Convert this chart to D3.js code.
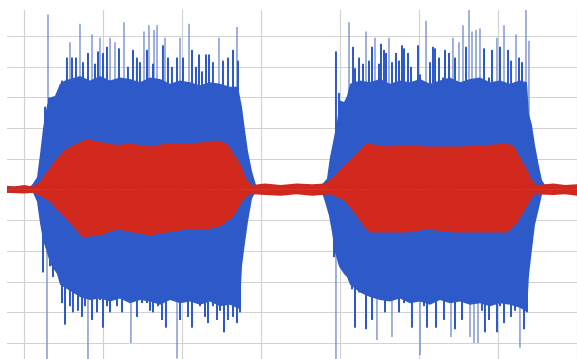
<!DOCTYPE html>
<html>
<head>
<meta charset="utf-8">
<script src="https://cdn.jsdelivr.net/npm/d3@7"></script>
<style>
  body { margin: 0; background: #fff; }
  svg { display: block; }
</style>
</head>
<body>
<div id="chart"></div>
<script>
// grid positions (time units / amplitude units)
const gridT = [0, 1, 2, 3, 4, 5, 6, 7];
const gridV = [-1, -0.8, -0.6, -0.4, -0.2, 0.2, 0.4, 0.6, 0.8, 1];

// blue signal: dense body envelope [t, v]
const blueUpper = [
  [-0.215, 0.02], [0.08, 0.02], [0.114, 0.04], [0.165, 0.08], [0.203, 0.23], [0.241, 0.40],
  [0.291, 0.55], [0.329, 0.60], [0.392, 0.61], [0.456, 0.69], [0.519, 0.71], [0.582, 0.72],
  [0.709, 0.74], [0.835, 0.71], [0.962, 0.74], [1.089, 0.71], [1.215, 0.73], [1.342, 0.72],
  [1.468, 0.70], [1.595, 0.73], [1.722, 0.72], [1.848, 0.69], [1.975, 0.71], [2.101, 0.70],
  [2.228, 0.68], [2.354, 0.70], [2.481, 0.69], [2.608, 0.67], [2.709, 0.67], [2.759, 0.54],
  [2.797, 0.39], [2.835, 0.25], [2.886, 0.12], [2.937, 0.03], [2.987, 0.02], [3.3, 0.02],
  [3.747, 0.02], [3.835, 0.07], [3.873, 0.21], [3.924, 0.34], [3.962, 0.44], [4.0, 0.58],
  [4.051, 0.57], [4.089, 0.61], [4.127, 0.69], [4.253, 0.71], [4.38, 0.70], [4.506, 0.72],
  [4.633, 0.69], [4.759, 0.71], [4.886, 0.70], [5.013, 0.72], [5.139, 0.69], [5.266, 0.71],
  [5.392, 0.73], [5.519, 0.70], [5.646, 0.72], [5.772, 0.73], [5.899, 0.70], [6.025, 0.71],
  [6.152, 0.69], [6.278, 0.71], [6.367, 0.70], [6.392, 0.49], [6.43, 0.42], [6.468, 0.29],
  [6.519, 0.15], [6.557, 0.06], [6.608, 0.02], [7.0, 0.02]
];
const blueLower = [
  [-0.215, -0.02], [0.08, -0.02], [0.114, -0.02], [0.165, -0.08], [0.203, -0.22], [0.241, -0.33],
  [0.291, -0.41], [0.329, -0.48], [0.418, -0.55], [0.456, -0.62], [0.582, -0.66], [0.709, -0.70],
  [0.835, -0.72], [0.962, -0.71], [1.089, -0.73], [1.215, -0.71], [1.342, -0.74], [1.468, -0.72],
  [1.595, -0.73], [1.722, -0.75], [1.848, -0.72], [1.975, -0.74], [2.101, -0.73], [2.228, -0.75],
  [2.354, -0.73], [2.481, -0.76], [2.608, -0.75], [2.734, -0.78], [2.759, -0.50], [2.797, -0.35],
  [2.835, -0.21], [2.886, -0.06], [2.924, -0.02], [3.772, -0.02], [3.81, -0.08], [3.861, -0.17],
  [3.899, -0.28], [3.937, -0.41], [3.987, -0.50], [4.051, -0.55], [4.089, -0.57], [4.127, -0.62],
  [4.253, -0.67], [4.38, -0.70], [4.506, -0.72], [4.633, -0.73], [4.759, -0.71], [4.886, -0.74],
  [5.013, -0.73], [5.139, -0.75], [5.266, -0.72], [5.392, -0.74], [5.519, -0.73], [5.646, -0.75],
  [5.772, -0.74], [5.899, -0.76], [6.025, -0.74], [6.152, -0.75], [6.278, -0.77], [6.367, -0.80],
  [6.392, -0.56], [6.43, -0.39], [6.468, -0.23], [6.519, -0.12], [6.557, -0.03], [6.608, -0.02],
  [7.0, -0.02]
];

// blue signal: individual peaks [t, v]
const bluePeaksUp = [
  [0.266, 0.54], [0.304, 1.14], [0.316, 0.60], [0.367, 0.60], [0.481, 0.71], [0.544, 0.86],
  [0.582, 0.96], [0.608, 0.86], [0.658, 0.86], [0.709, 1.08], [0.747, 0.83], [0.810, 0.89],
  [0.861, 1.01], [0.899, 0.82], [0.937, 0.90], [0.962, 0.99], [1.0, 0.89], [1.051, 0.93],
  [1.089, 0.99], [1.152, 0.96], [1.203, 0.92], [1.266, 1.09], [1.316, 0.80], [1.380, 0.91],
  [1.430, 0.86], [1.468, 0.83], [1.519, 1.03], [1.557, 0.91], [1.582, 1.07], [1.633, 0.82],
  [1.646, 1.04], [1.684, 1.07], [1.759, 0.94], [1.785, 0.99], [1.823, 0.86], [1.873, 0.80],
  [1.937, 0.86], [1.975, 0.99], [2.013, 0.86], [2.089, 1.08], [2.127, 0.91], [2.177, 0.80],
  [2.215, 0.88], [2.253, 0.77], [2.304, 0.88], [2.342, 0.88], [2.392, 0.83], [2.468, 0.99],
  [2.519, 0.84], [2.582, 0.86], [2.646, 0.91], [2.696, 1.06], [2.709, 0.84],
  [3.949, 0.90], [3.987, 0.63], [4.114, 1.09], [4.165, 0.93], [4.190, 0.79], [4.241, 0.86],
  [4.291, 0.82], [4.329, 1.03], [4.367, 0.84], [4.405, 0.93], [4.443, 0.99], [4.494, 0.82],
  [4.519, 0.95], [4.557, 0.91], [4.582, 0.89], [4.620, 0.99], [4.658, 0.83], [4.709, 0.89],
  [4.747, 0.84], [4.785, 0.94], [4.810, 0.92], [4.861, 0.89], [4.899, 0.80], [4.987, 0.94],
  [5.013, 0.75], [5.089, 1.10], [5.139, 0.83], [5.177, 0.93], [5.203, 0.92], [5.253, 0.86],
  [5.304, 0.73], [5.329, 0.91], [5.380, 0.89], [5.430, 0.99], [5.456, 0.86], [5.506, 0.96],
  [5.557, 1.07], [5.595, 0.93], [5.633, 1.17], [5.671, 1.03], [5.722, 1.04], [5.772, 1.05],
  [5.823, 0.92], [5.886, 0.73], [5.924, 0.91], [5.987, 0.99], [6.025, 0.93], [6.076, 1.07],
  [6.127, 0.91], [6.165, 0.84], [6.228, 1.01], [6.266, 0.86], [6.304, 0.83], [6.354, 1.17],
  [6.392, 0.97]
];
const bluePeaksDown = [
  [0.241, -0.54], [0.291, -1.11], [0.329, -0.50], [0.367, -0.57], [0.481, -0.74], [0.519, -0.88],
  [0.582, -0.76], [0.620, -0.80], [0.684, -0.79], [0.734, -0.83], [0.772, -0.76], [0.810, -1.11],
  [0.861, -0.85], [0.924, -0.80], [0.962, -0.72], [1.0, -0.90], [1.051, -0.76], [1.089, -0.80],
  [1.127, -0.65], [1.177, -0.76], [1.241, -0.80], [1.304, -0.72], [1.354, -1.00], [1.380, -0.72],
  [1.430, -0.83], [1.494, -0.74], [1.557, -0.74], [1.595, -0.79], [1.633, -0.80], [1.696, -0.76],
  [1.747, -0.85], [1.797, -0.90], [1.848, -0.63], [1.886, -0.67], [1.937, -1.10], [1.975, -0.85],
  [2.038, -0.70], [2.076, -0.83], [2.127, -0.90], [2.190, -0.67], [2.228, -0.76], [2.291, -0.83],
  [2.329, -0.87], [2.392, -0.76], [2.443, -0.85], [2.481, -0.79], [2.532, -0.93], [2.582, -0.85],
  [2.646, -0.83], [2.696, -0.87], [2.734, -0.80],
  [3.924, -0.44], [3.949, -1.11], [3.987, -0.48], [4.025, -0.52], [4.152, -0.65], [4.190, -0.90],
  [4.241, -0.67], [4.278, -0.61], [4.329, -0.91], [4.380, -0.59], [4.405, -0.85], [4.430, -0.65],
  [4.468, -0.98], [4.532, -0.67], [4.570, -0.80], [4.620, -0.70], [4.658, -0.96], [4.696, -0.63],
  [4.747, -0.80], [4.810, -0.74], [4.861, -0.65], [4.911, -0.90], [4.949, -0.70], [5.013, -1.08],
  [5.063, -0.76], [5.101, -0.90], [5.165, -0.72], [5.215, -0.90], [5.266, -0.63], [5.316, -0.85],
  [5.354, -0.61], [5.405, -0.96], [5.456, -0.91], [5.506, -0.56], [5.544, -0.85], [5.608, -0.70],
  [5.646, -0.96], [5.696, -1.00], [5.747, -1.00], [5.797, -0.79], [5.835, -0.93], [5.886, -0.85],
  [5.949, -0.70], [5.987, -0.93], [6.025, -0.76], [6.076, -0.87], [6.127, -0.63], [6.165, -0.83],
  [6.215, -0.79], [6.278, -1.03], [6.329, -0.91], [6.367, -0.80]
];

// red signal envelope [t, v]
const redUpper = [
  [-0.215, 0.025], [-0.12, 0.02], [0.0, 0.03], [0.114, 0.02], [0.203, 0.05], [0.266, 0.10],
  [0.329, 0.14], [0.392, 0.19], [0.519, 0.26], [0.671, 0.30], [0.797, 0.33], [0.962, 0.31],
  [1.177, 0.29], [1.342, 0.30], [1.595, 0.28], [1.81, 0.30], [2.063, 0.30], [2.316, 0.31],
  [2.443, 0.32], [2.57, 0.30], [2.646, 0.24], [2.734, 0.17], [2.823, 0.06], [2.886, 0.03],
  [3.05, 0.04], [3.25, 0.03], [3.45, 0.04], [3.65, 0.035], [3.81, 0.04], [3.937, 0.09],
  [4.038, 0.15], [4.127, 0.19], [4.19, 0.22], [4.253, 0.26], [4.342, 0.30], [4.595, 0.28],
  [4.81, 0.29], [5.101, 0.28], [5.519, 0.28], [5.861, 0.29], [6.114, 0.30], [6.203, 0.28],
  [6.278, 0.21], [6.367, 0.13], [6.43, 0.06], [6.494, 0.03], [6.7, 0.04], [6.85, 0.03],
  [7.0, 0.035]
];
const redLower = [
  [-0.215, -0.02], [0.0, -0.025], [0.114, -0.02], [0.203, -0.04], [0.329, -0.08], [0.418, -0.13],
  [0.519, -0.18], [0.582, -0.22], [0.671, -0.27], [0.747, -0.31], [0.962, -0.30], [1.177, -0.26],
  [1.38, -0.28], [1.595, -0.30], [1.81, -0.28], [2.063, -0.26], [2.316, -0.26], [2.481, -0.24],
  [2.646, -0.18], [2.772, -0.07], [2.861, -0.03], [3.05, -0.035], [3.25, -0.04], [3.45, -0.03],
  [3.65, -0.04], [3.873, -0.03], [4.051, -0.07], [4.177, -0.15], [4.304, -0.24], [4.38, -0.28],
  [4.595, -0.28], [4.848, -0.28], [5.101, -0.26], [5.443, -0.28], [5.696, -0.28], [5.949, -0.28],
  [6.114, -0.28], [6.241, -0.22], [6.367, -0.11], [6.456, -0.03], [6.7, -0.035], [6.85, -0.03],
  [7.0, -0.04]
];

const width = 577, height = 359;
const BLUE = '#2d59c9';
const BLUE_TALL = '#6e87cc';
const RED = '#d0281d';
const GRID = '#d2d2d2';

const x = d3.scaleLinear().domain([-0.215, 7]).range([7, 577]);
const y = d3.scaleLinear().domain([-1.104, 1.17]).range([359, 10]);

const svg = d3.select('#chart').append('svg')
  .attr('width', width)
  .attr('height', height);

svg.append('clipPath').attr('id', 'plot')
  .append('rect')
  .attr('x', x.range()[0]).attr('y', y.range()[1])
  .attr('width', x.range()[1] - x.range()[0])
  .attr('height', y.range()[0] - y.range()[1]);

// grid
const grid = svg.append('g');
grid.selectAll('line.h')
  .data(gridV)
  .join('line')
  .attr('class', 'h')
  .attr('x1', x.range()[0]).attr('x2', x.range()[1])
  .attr('y1', d => Math.round(y(d)) + 0.5).attr('y2', d => Math.round(y(d)) + 0.5)
  .attr('stroke', GRID)
  .attr('stroke-width', 1.2);
grid.selectAll('line.v')
  .data(gridT)
  .join('line')
  .attr('class', 'v')
  .attr('x1', d => Math.round(x(d)) + 0.5).attr('x2', d => Math.round(x(d)) + 0.5)
  .attr('y1', y.range()[1]).attr('y2', y.range()[0])
  .attr('stroke', GRID)
  .attr('stroke-width', 1.2);

const g = svg.append('g').attr('clip-path', 'url(#plot)');

// blue peaks: tall ones are thin and pale, the rest thicker
const peaks = bluePeaksUp.concat(bluePeaksDown);
const isTall = d => Math.abs(d[1]) > 0.95;
g.append('g')
  .selectAll('line')
  .data(peaks.filter(isTall))
  .join('line')
  .attr('x1', d => x(d[0])).attr('x2', d => x(d[0]))
  .attr('y1', y(0)).attr('y2', d => y(d[1]))
  .attr('stroke', BLUE_TALL)
  .attr('stroke-width', 1.3);
g.append('g')
  .selectAll('line')
  .data(peaks.filter(d => !isTall(d)))
  .join('line')
  .attr('x1', d => x(d[0])).attr('x2', d => x(d[0]))
  .attr('y1', y(0)).attr('y2', d => y(d[1]))
  .attr('stroke', BLUE)
  .attr('stroke-width', 2);

// blue body
const area = d3.area().x(d => x(d[0])).y0(y(0)).y1(d => y(d[1]));
g.append('path').datum(blueUpper).attr('d', area).attr('fill', BLUE);
g.append('path').datum(blueLower).attr('d', area).attr('fill', BLUE);

// red body
g.append('path').datum(redUpper).attr('d', area).attr('fill', RED);
g.append('path').datum(redLower).attr('d', area).attr('fill', RED);
</script>
</body>
</html>
